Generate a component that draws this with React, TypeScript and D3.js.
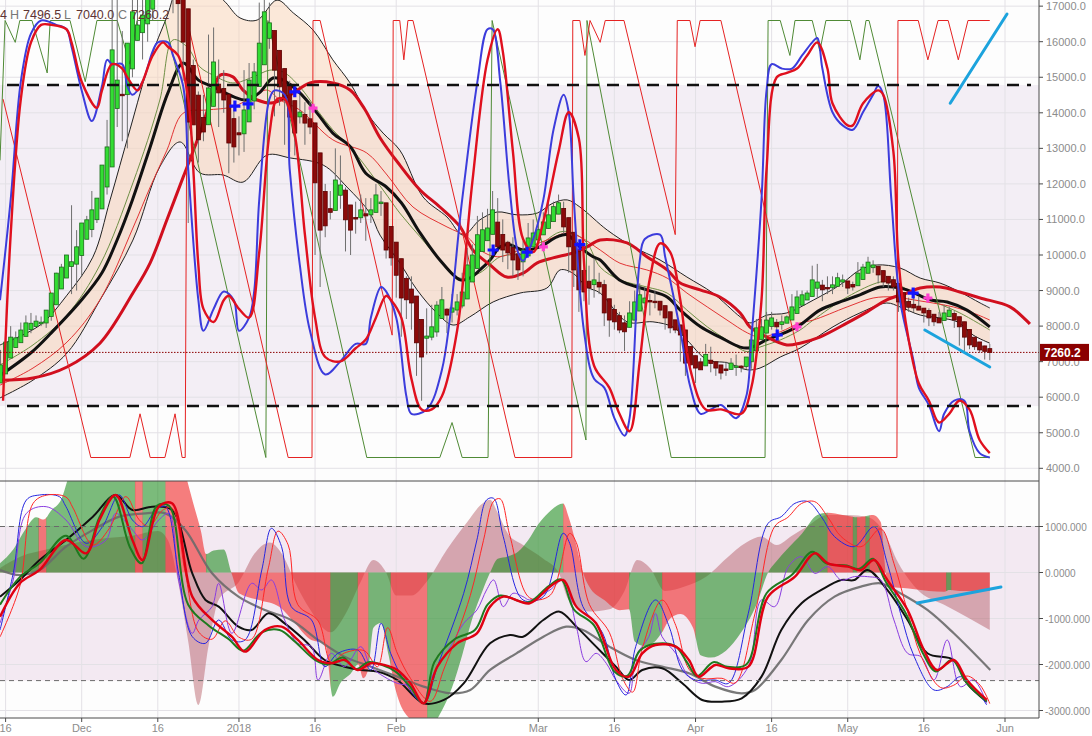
import React, { useEffect, useRef } from 'react';
import * as d3 from 'd3';

type Pt = [number, number];

// day index 0 = 16 Nov 2017, one candle per day
const FIRST_DAY = -1;
const FIRST_OPEN = 6400;

const haClose = [
  6910, 7550, 7690, 7670, 7890, 8090, 8080, 8140, 8110, 8450,
  8930, 9490, 9660, 10000, 9810, 10230, 10900, 10990, 11270, 11600,
  12530, 13040, 15770, 14920, 14500, 15960, 16840, 16470, 16750, 17330,
  17900, 18800, 19300, 19100, 18400, 17070, 15990, 13740, 13660, 13240,
  13460, 14700, 15430, 14560, 14360, 13150, 13040, 13380, 14080, 14920,
  15150, 15960, 16840, 16530, 15200, 14730, 14360, 13880, 13430, 14020,
  13710, 13600, 12030, 10700, 10820, 11200, 12110, 11970, 10990, 10700,
  11040, 11270, 11100, 11270, 11690, 11490, 10140, 9920, 9430, 8790,
  8740, 8650, 7530, 7130, 7720, 7980, 8590, 8740, 8310, 8510,
  8680, 8960, 9720, 10000, 10570, 10710, 10760, 11270, 10230, 10140,
  10060, 9860, 9580, 10140, 10480, 10620, 10710, 10930, 11130, 11360,
  11470, 10790, 10230, 9580, 9020, 8960, 9070, 9300, 9100, 8370,
  8170, 8120, 7890, 7840, 8370, 8680, 8880, 8790, 8680, 8700,
  8450, 8230, 7950, 7890, 7750, 6960, 6910, 6820, 6770, 7200,
  6950, 6820, 6680, 6770, 6960, 6880, 6850, 7130, 7610, 7950,
  7980, 8170, 8230, 7980, 8120, 8260, 8540, 8820, 8880, 8930,
  9300, 9240, 9020, 9070, 9160, 9360, 9300, 9070, 9100, 9490,
  9660, 9800, 9720, 9440, 9240, 9210, 9100, 8680, 8450, 8530,
  8510, 8450, 8370, 8230, 8120, 8090, 8370, 8450, 8170, 7980,
  7690, 7470, 7420, 7330, 7290, 7260.2,
];

const highs = [
  7330, 7970, 8000, 7850, 8100, 8300, 8370, 8300, 8270, 8350,
  8750, 9500, 9750, 9950, 11400, 10700, 10900, 11100, 11800, 11600,
  11900, 13800, 17200, 17300, 16300, 15700, 17400, 17500, 17300, 16900,
  17900, 19500, 19800, 19200, 19000, 17900, 17300, 15800, 15500, 14600,
  14500, 16200, 16400, 15500, 15200, 14400, 14200, 13900, 15200, 15400,
  15400, 17100, 17200, 17100, 16200, 15300, 14900, 14900, 14100, 14500,
  14300, 14300, 13600, 11700, 12000, 11800, 13000, 12800, 11900, 11300,
  11500, 11700, 11600, 11600, 12000, 11800, 11200, 10300, 10200, 9100,
  9400, 9400, 8300, 7900, 8500, 8600, 8700, 9100, 8500, 8900,
  8900, 9500, 10200, 10300, 11100, 11200, 11300, 11800, 11600, 11000,
  10400, 10500, 9900, 10400, 10900, 11000, 11000, 11200, 11500, 11500,
  11700, 11500, 10900, 10100, 9400, 9500, 9700, 9900, 9500, 9300,
  8400, 8600, 8400, 8300, 8700, 9000, 9200, 9100, 8900, 9000,
  8700, 8500, 8200, 8100, 7950, 7300, 7200, 7000, 7100, 7500,
  7420, 6900, 6800, 7000, 7100, 7200, 6900, 6970, 8000, 8200,
  8200, 8400, 8400, 8200, 8300, 8300, 8900, 9000, 9000, 9000,
  9700, 9750, 9300, 9400, 9400, 9500, 9450, 9250, 9250, 9800,
  9750, 9950, 9850, 9650, 9450, 9350, 9400, 9050, 8650, 8800,
  8900, 8850, 8500, 8500, 8300, 8400, 8600, 8550, 8420, 8000,
  7700, 7650, 7600, 7400, 7450, 7496.5,
];

const lows = [
  6660, 7120, 7500, 7450, 7700, 7950, 7800, 8100, 8000, 7950,
  8150, 8700, 9300, 9600, 8900, 9000, 9400, 10700, 10500, 10900,
  11500, 11700, 13400, 13600, 13200, 13000, 15000, 16300, 15500, 16000,
  16600, 17500, 18800, 18000, 16800, 15600, 14900, 10900, 13700, 12600,
  13200, 13700, 14800, 13600, 14000, 12300, 12600, 12800, 12900, 14600,
  14100, 14800, 16100, 15800, 13900, 14200, 13100, 12900, 12800, 13700,
  13100, 13400, 10000, 9100, 10500, 11000, 11600, 11300, 10100, 10000,
  10600, 10900, 10400, 10900, 11400, 11100, 9900, 9700, 8800, 7700,
  8200, 7900, 6600, 5900, 7200, 7600, 7700, 8200, 7800, 8100,
  8300, 8500, 9400, 9700, 10100, 10200, 10400, 11000, 10300, 9800,
  9600, 9400, 9300, 9400, 10200, 10300, 10300, 10800, 11000, 11100,
  11400, 10600, 9500, 9100, 8400, 8700, 8600, 8800, 8900, 8000,
  7700, 7900, 7800, 7300, 8100, 8300, 8700, 8500, 8300, 8500,
  8300, 7900, 7800, 7800, 7000, 6600, 6800, 6400, 6800, 7000,
  6700, 6600, 6500, 6600, 6900, 6600, 6700, 6800, 6800, 7700,
  7800, 8000, 7900, 7800, 7900, 8100, 8200, 8600, 8800, 8800,
  8900, 8800, 8700, 8900, 8900, 9200, 9100, 8900, 9000, 9200,
  9500, 9700, 9500, 9200, 9100, 9000, 9000, 8400, 8200, 8400,
  8400, 8450, 8100, 8000, 8000, 8150, 8200, 8350, 7950, 7450,
  7300, 7350, 7330, 7250, 7060, 7040,
];

const xTicks: [number, string][] = [
  [0, '16'], [15, 'Dec'], [30, '16'], [46, '2018'], [61, '16'], [77, 'Feb'],
  [105, 'Mar'], [120, '16'], [136, 'Apr'], [151, '16'], [166, 'May'], [181, '16'], [197, 'Jun'],
];
const priceTicks = [4000, 5000, 6000, 7000, 8000, 9000, 10000, 11000, 12000, 13000, 14000, 15000, 16000, 17000];
const oscTicks = [1000, 0, -1000, -2000, -3000];
const oscTickLabels = ['1000.000', '0.0000', '-1000.000', '-2000.000', '-3000.000'];
const priceBand = [14780, 5750];
const oscBand = [1000, -2350];
const lastClose = 7260.2;
const legendParts: [string, string, number][] = [
  ['4', 'v', 0], ['H', 'k', 10], ['7496.5', 'v', 23], ['L', 'k', 64],
  ['7040.0', 'v', 76], ['C', 'k', 118], ['7260.2', 'v', 131],
];

// moving averages and envelope, [day, price]
const maBlack: Pt[] = [[-1, 6620], [5, 7250], [9, 7810], [15, 8740], [19, 9500], [22, 10430], [25, 11550], [28.5, 13040], [32, 14560], [35, 15400], [38, 14920], [41, 14730], [45, 14450], [47.5, 14360], [50, 14560], [52.7, 14980], [54.7, 14920], [58, 14560], [61.4, 13990], [64.5, 13430], [68, 13040], [71, 12300], [75, 11920], [78, 11470], [81.7, 10620], [85.6, 9860], [89.6, 9300], [91.5, 9350], [93.5, 9580], [95.5, 9860], [97.5, 10230], [99.4, 10290], [102, 10140], [105.3, 10230], [108.7, 10510], [110.7, 10570], [113.2, 10230], [115.8, 9950], [117.2, 9860], [121, 9300], [126.4, 9020], [130.4, 8820], [133, 8450], [137, 7980], [140.8, 7690], [144.8, 7410], [146.7, 7390], [150, 7610], [154, 7840], [156.6, 8030], [160.5, 8450], [164.5, 8680], [168.4, 8880], [172.4, 9100], [175, 9100], [177.7, 9020], [182.2, 8740], [185.6, 8680], [189.5, 8450], [194, 7980]];
const envUpper: Pt[] = [[-1.1, 7470], [6.8, 8030], [12.1, 8870], [17.2, 9940], [20.6, 11550], [24.5, 13520], [28.5, 15490], [31.8, 16700], [34.4, 17600], [38.3, 17600], [42.9, 17170], [46.2, 16670], [49.6, 16610], [53.5, 17170], [56.7, 16810], [60.6, 16330], [64.5, 15490], [67.9, 14840], [71.2, 14000], [74.4, 13430], [77.7, 12950], [82.3, 11630], [87, 11070], [90.2, 10560], [93.5, 10990], [96.9, 11210], [100.8, 11130], [104.8, 11180], [107.9, 11460], [110.7, 11550], [113.2, 11350], [118.6, 10700], [123.7, 10230], [129, 9860], [134.3, 9380], [139.4, 8930], [144.8, 8260], [146.7, 8090], [150.1, 8310], [154, 8370], [159.2, 8730], [164.5, 9160], [168.4, 9580], [171.8, 9720], [176.3, 9635], [180.3, 9350], [184.2, 9210], [188.1, 8960], [192.1, 8650], [194, 8510]];
const envLower: Pt[] = [[-1.1, 5980], [5.4, 6480], [12.1, 7240], [18.6, 8730], [25.1, 10420], [30.4, 12480], [34.4, 13180], [38.3, 12310], [42.9, 12250], [46.8, 12050], [51.5, 12810], [56.1, 12730], [62.6, 12530], [67.3, 11910], [71.8, 11180], [73.8, 10560], [77.7, 9780], [81.1, 9020], [85, 8370], [88.2, 8030], [91.5, 8260], [96.1, 8680], [101.4, 8930], [106.7, 9070], [109.3, 9580], [111.8, 9490], [114.6, 9100], [117.2, 8930], [122.5, 8120], [127.6, 8120], [131.6, 7970], [134.3, 7610], [138.3, 7050], [142.2, 6970], [146.2, 6770], [148.7, 6820], [152.7, 7130], [156.6, 7380], [163.1, 7980], [168.4, 8370], [173.7, 8650], [176.3, 8540], [180.3, 8310], [184.2, 8230], [187.6, 8120], [190.7, 7750], [194, 7520]];
const maRedThick: Pt[] = [[-1.1, 6480], [5.4, 6540], [12.1, 6850], [18.6, 7520], [25.1, 8930], [28.5, 9780], [31.8, 10990], [35, 12190], [38.3, 13430], [40.9, 14560], [42.3, 15060], [44.8, 15010], [46.8, 14640], [49.6, 14360], [52.7, 14280], [56.1, 14500], [60, 14840], [64.5, 14840], [67.9, 14640], [70.8, 14100], [73.8, 13300], [77.7, 12530], [81.7, 11830], [85.6, 11350], [89.6, 10790], [92.1, 10140], [95.5, 9720], [98.8, 9380], [102, 9490], [104.8, 9780], [107.9, 9920], [111.9, 10060], [114.6, 10230], [117.2, 10420], [122.5, 10340], [126.4, 9950], [130.4, 9580], [132.9, 9220], [136.9, 9020], [140.8, 8820], [144.8, 8370], [146.7, 7980], [150.1, 7690], [154, 7470], [156.6, 7520], [160.5, 7690], [165.9, 8090], [169.8, 8400], [173.7, 8740], [177.7, 8930], [180.3, 9070], [184.2, 9100], [188.1, 8960], [192.1, 8790], [198, 8540], [201.9, 8060]];
const maRedThin: Pt[] = [[-1.1, 6340], [5.4, 6820], [12.1, 7550], [18.6, 8740], [25.1, 10760], [28.5, 11910], [31.8, 12950], [35, 13990], [39.7, 14080], [44.8, 14170], [48.8, 14450], [51.5, 14640], [54.1, 14360], [58, 14080], [64.5, 13240], [71.2, 12870], [75.2, 12250], [80.3, 11350], [87, 10790], [91, 10510], [93.5, 10140], [96.9, 9950], [101.4, 10140], [106.7, 10420], [110.7, 10620], [113.2, 10510], [117.2, 10140], [121.1, 9770], [126.4, 9580], [130.4, 9350], [134.3, 8930], [138.3, 8540], [142.2, 8170], [146.2, 7810], [148.7, 7690], [152.7, 7840], [156.6, 8090], [159.2, 8170], [165.9, 8540], [171, 8790], [174.9, 8820], [178.9, 8740], [182.8, 8650], [186.8, 8540], [190.7, 8370], [194, 8170]];
const maOlive: Pt[] = [[-1.1, 6910], [5.4, 7470], [12.1, 8310], [18.6, 9720], [25.1, 12030], [30.4, 14360], [33, 16050], [35.8, 15850], [38.3, 15290], [40.9, 15060], [44.8, 14840], [48.8, 15010], [52.1, 15200], [54.7, 15150], [58, 14730], [61.4, 14080], [64.5, 13520], [67.9, 13040], [74.4, 11830], [77.7, 11180], [81.7, 10510], [85.6, 9860], [89.5, 9350], [93.5, 9500], [97.5, 9950], [102.8, 10060], [109.3, 10650], [111.8, 10620], [114.6, 10340], [117.2, 9660], [121.1, 9300], [126.4, 9100], [130.4, 8930], [134.3, 8450], [138.3, 7980], [142.2, 7610], [146.2, 7280], [148.7, 7410], [152.7, 7610], [156.6, 7890], [159.2, 8170], [165.9, 8820], [172.4, 9240], [174.9, 9240], [178.9, 8930], [183.6, 8650], [188.1, 8370], [194, 7890]];

// overlay oscillators on the price pane, 0..100
const stochBlue: Pt[] = [[-1.1, 36], [1, 59], [3, 86], [5, 97], [7, 100], [10, 99], [12, 98], [13, 94], [15, 84], [17, 77], [19, 85], [20, 91], [21, 90], [23, 90], [24, 85], [25, 83], [27, 86], [29, 93], [30, 95], [32, 95], [33, 92], [35, 85], [36, 66], [38, 36], [39, 29], [41, 34], [43, 38], [45, 36], [46, 29], [48, 32], [49, 38], [50, 59], [52, 82], [53, 84], [55, 83], [56, 66], [58, 44], [60, 29], [63, 19], [66, 22], [69, 26], [71, 26], [72, 32], [74, 39], [75, 38], [77, 32], [79, 14], [80, 10], [83, 11], [86, 20], [90, 59], [93, 86], [95, 98], [96, 98], [97.5, 86], [99.4, 61], [101, 47], [102, 45], [104, 50], [106, 59], [108, 75], [110, 83], [111, 79], [112, 59], [114, 29], [116, 18], [118, 16], [120, 9], [122, 5], [123, 9], [125, 45], [126, 50], [129, 51], [130, 46], [133, 29], [135, 16], [137, 10], [139, 11], [141, 12], [144, 9], [146, 14], [147, 27], [149, 59], [150, 84], [151, 90], [153, 89], [155, 89], [157, 92], [159, 95], [160, 96], [161, 89], [163, 79], [165, 76], [167, 75], [169, 79], [171, 83], [172, 85], [173, 83], [174.6, 59], [176.3, 36], [179, 22], [180, 16], [182, 12], [184, 6], [185, 10], [187, 13], [189, 13], [190, 6], [192, 1], [194, 0]];
const stochRed: Pt[] = [[-0.5, 13], [1, 51], [3, 82], [5, 95], [7, 99], [9, 99], [12, 98], [13, 95], [15, 86], [18, 80], [19, 84], [21, 90], [23, 89], [24, 87], [26, 84], [27, 86], [29, 92], [31, 95], [32, 94], [34, 92], [36, 82], [37, 66], [38, 44], [39, 34], [41, 31], [43, 36], [44, 37], [46, 34], [48, 32], [50, 47], [52, 74], [53.5, 82], [55, 82], [57, 74], [59, 51], [61, 32], [63, 23], [66, 22], [69, 25], [71, 27], [73, 32], [75, 37], [76, 36], [78, 32], [80, 18], [82, 11], [84, 11], [86, 14], [89, 29], [92, 63], [95, 91], [97, 98], [98, 93], [100, 70], [102, 50], [104, 47], [106, 54], [109, 70], [111, 79], [113, 73], [114, 45], [116, 21], [119, 16], [121, 10], [123, 6], [125, 22], [127, 41], [129, 49], [131, 47], [133, 36], [135, 20], [138, 11], [141, 11], [145, 10], [147, 16], [149, 36], [150, 66], [152, 87], [154, 88], [156, 89], [158, 92], [160, 95], [162, 89], [163, 81], [166, 76], [167, 76], [169, 81], [172, 84], [173, 83], [175, 70], [176, 45], [178, 27], [180, 17], [182, 13], [184, 8], [186, 10], [188, 13], [190, 11], [192, 4], [194, 1]];
const aroonUp: Pt[] = [[-1.1, 68], [-0.1, 100], [1.9, 95], [2.8, 100], [5.2, 100], [8.2, 88], [8.8, 100], [12.7, 100], [15.7, 86], [18, 100], [22, 100], [24.5, 90], [25.9, 100], [31.4, 100], [51.3, 0], [51.7, 100], [71.2, 0], [85.6, 0], [88, 8], [90, 0], [95.1, 0], [95.9, 100], [114.4, 4], [114.6, 100], [131.2, 0], [149.7, 0], [150.3, 100], [152.7, 100], [154.6, 92], [155.6, 100], [159, 100], [160.5, 93], [161.7, 100], [166.5, 100], [168.4, 91], [169.6, 100], [170.2, 100], [191.1, 0], [194, 0]];
const aroonDown: Pt[] = [[-0.5, 82], [16.8, 0], [24.5, 0], [26.5, 10], [28.5, 0], [31.4, 0], [33.4, 10], [34.8, 0], [35.4, 0], [35.8, 100], [55.7, 0], [60.4, 0], [60.6, 100], [62, 100], [76.2, 28], [76.4, 100], [77.7, 100], [78.5, 91], [79.3, 100], [80.3, 100], [100.4, 0], [111.6, 0], [111.8, 100], [113.2, 100], [114.2, 92], [115.2, 100], [117.2, 95], [118.2, 100], [121.9, 100], [132, 51], [132.4, 100], [134.9, 100], [135.9, 94], [136.9, 100], [141, 100], [161, 0], [175.7, 0], [175.9, 100], [179.9, 100], [181.8, 91], [183.8, 100], [185.8, 100], [187.8, 91], [189.7, 100], [194, 100]];

const buyMarks: Pt[] = [[45.2, 14190], [47.8, 14250], [57, 14590], [96.1, 10140], [102.8, 10080], [113.2, 10290], [152.1, 7750], [178.9, 8930]];
const sellMarks: Pt[] = [[60.6, 14130], [106, 10230], [156, 7980], [181.8, 8790]];
const trendUp: Pt[] = [[186.2, 14270], [197.4, 16780]];
const trendDown: Pt[] = [[181.2, 7890], [194, 6850]];

// lower pane
const histVals: Pt[] = [[-1.1, 200], [1.5, 500], [4, 950], [6, 1200], [7.5, 1150], [9, 1350], [11, 1600], [12.5, 2100], [15, 2600], [20, 2900], [25, 3000], [26.5, 2900], [28, 3000], [31.5, 3200], [33, 2900], [35, 2300], [37, 1500], [38.5, 900], [39.5, 400], [41, 480], [43, 500], [44.5, 0], [46, -450], [50, -600], [54, -750], [57, -1100], [60, -1450], [63, -1550], [64.5, -2700], [66, -2400], [68, -2200], [69.5, -2000], [70.5, -2300], [71.5, -2100], [72.5, -1200], [74, -1100], [75.5, -1800], [77, -2600], [79, -3100], [82, -3300], [84, -3300], [86, -3000], [88, -2500], [90, -1800], [92, -1000], [94, -400], [95.5, 0], [97, 300], [99, 350], [101, 450], [103, 700], [105, 1050], [107, 1300], [109.9, 1500], [111, 1200], [112.5, 600], [113.8, 0], [115, -300], [118, -600], [121, -820], [122.9, -800], [124, -1500], [126, -1600], [128, -1500], [129.4, -1300], [131, -1000], [133, -900], [135.5, -1200], [137, -1800], [139, -1850], [142, -1700], [145, -1300], [148, -700], [150.3, 0], [152, 250], [154, 500], [157, 850], [160, 1250], [162, 1300], [165, 1250], [168, 1200], [171, 1250], [172.5, 1100], [173.5, 0], [174, -300], [178, -350], [182, -400], [185, -420], [186, -380], [188, -400], [194, -400]];
const histColors: [number, number, string][] = [[-1.1, 6.5, 'g'], [6.5, 8, 'r'], [8, 25.5, 'g'], [25.5, 27, 'r'], [27, 31.5, 'g'], [31.5, 39.5, 'r'], [39.5, 44.5, 'g'], [44.5, 64, 'r'], [64, 69.4, 'g'], [69.4, 71.5, 'r'], [71.5, 75.9, 'g'], [75.9, 83.1, 'r'], [83.1, 109.9, 'g'], [109.9, 122.9, 'r'], [122.9, 129.4, 'g'], [129.4, 136, 'r'], [136, 162, 'g'], [162, 167, 'r'], [167, 167.8, 'g'], [167.8, 169.5, 'r'], [169.5, 170.3, 'g'], [170.3, 185.4, 'r'], [185.4, 186.4, 'g'], [186.4, 194.2, 'r']];
const signalVals: Pt[] = [[-1.1, 100], [3, 350], [8, 500], [14, 650], [20, 750], [25, 800], [30, 900], [32, 700], [34, -200], [36, -1500], [38, -2880], [40, -1600], [42, -600], [46, -200], [49, 400], [52, 650], [55, 300], [57, -200], [60, -800], [64, -1300], [67, -900], [70, -200], [72.5, 270], [75, 0], [77, -500], [80, -500], [83, -200], [87, 500], [91, 1100], [94, 1500], [95.5, 1580], [97, 1300], [99, 850], [102, 600], [106, 300], [109, 0], [111, -600], [115, -850], [119, -800], [122, -400], [124.5, 270], [127, 100], [130, -400], [134, -300], [138, -100], [142, 300], [146, 650], [149, 780], [152, 600], [155, 800], [158, 1000], [162, 1250], [166, 1250], [170, 1200], [173, 900], [176, 200], [180, -400], [185, -700], [190, -1000], [194, -1250]];
const fastBlue: Pt[] = [[-1.1, -1250], [1.5, -18], [4.1, 1576], [6.7, 1685], [10.6, 1649], [11.9, 1431], [15.9, 634], [19.1, 997], [22.4, 1685], [25, 1141], [27, 997], [29.6, 1359], [31.5, 1431], [34.1, -18], [36.8, -1395], [39.4, -1540], [42, -1032], [44.6, -1467], [47.2, -1467], [50.5, 55], [52.4, 960], [54.4, 562], [56.3, -742], [60.3, -1032], [62.9, -2047], [65.5, -1757], [69.4, -1684], [72, -2119], [74, -1105], [75.9, -1757], [78.5, -2337], [82.4, -2844], [85.1, -2047], [90.3, -453], [92.9, 707], [94.8, 1576], [96.2, 1612], [98.1, 779], [102, -597], [106, -525], [109.9, 852], [111.2, 634], [113.8, -742], [117.7, -1322], [120.3, -2337], [122.3, -2663], [124.2, -1612], [128.1, -597], [130.8, -1177], [133.4, -2119], [136, -2337], [139.9, -2337], [142.5, -2409], [146.4, -887], [150.3, 1069], [152.9, 1214], [155.6, 1504], [158.2, 1540], [160.8, 1214], [163.4, 779], [167.3, 562], [171.2, 997], [173.8, 199], [176.4, -887], [179.1, -1829], [183, -2554], [185.6, -2481], [188.2, -2264], [190.8, -2481], [193.4, -2880]];
const fastRed: Pt[] = [[-1.1, -1400], [2.8, -300], [5.4, 1500], [8, 1680], [11.9, 1640], [13.3, 1400], [17.2, 600], [20.4, 950], [23.7, 1650], [26.3, 1150], [28.3, 1000], [30.9, 1350], [32.8, 1400], [35.4, 0], [38.1, -1300], [40.7, -1450], [43.3, -1050], [45.9, -1400], [48.5, -1450], [51.8, 100], [53.7, 900], [55.7, 600], [57.6, -700], [61.6, -1050], [64.2, -1950], [66.8, -1750], [70.7, -1700], [73.3, -2050], [75.3, -1200], [77.2, -1750], [79.8, -2300], [83.7, -2800], [86.4, -2100], [91.6, -500], [94.2, 700], [96.2, 1550], [97.5, 1600], [99.4, 800], [103.3, -550], [107.3, -500], [111.2, 850], [112.5, 650], [115.1, -700], [119, -1300], [121.6, -2300], [123.6, -2600], [125.5, -1650], [129.4, -600], [132.1, -1150], [134.7, -2100], [137.3, -2300], [141.2, -2300], [143.8, -2400], [147.7, -900], [151.6, 1000], [154.2, 1200], [156.9, 1500], [159.5, 1540], [162.1, 1200], [164.7, 780], [168.6, 560], [172.5, 950], [175.1, 200], [177.8, -850], [180.4, -1800], [184.3, -2500], [186.9, -2450], [189.5, -2250], [192.1, -2450], [194, -2850]];
const rawPurple: Pt[] = [[-1.1, -1100], [1.5, -163], [4.1, 1286], [8, 1431], [11.9, 1141], [15.9, 562], [19.8, 707], [21.7, 1286], [25, 924], [27, 707], [30.2, 1141], [32.2, 1286], [34.1, -163], [36.8, -1322], [38.1, -1032], [40.7, -742], [42, -235], [44.6, -1322], [48.5, -235], [50.5, -380], [52.4, -163], [55, -1032], [57.6, -1540], [60.3, -1612], [61.6, -2337], [64.2, -1757], [66.8, -2047], [70, -1612], [72, -2047], [74.6, -2264], [77.2, -2409], [79.8, -2481], [82.4, -2844], [83.7, -2337], [87.7, -1612], [90.3, -1105], [92.9, -815], [94.8, -380], [96.2, -163], [98.1, -742], [100, -453], [102, -525], [103.3, -597], [107.3, -380], [109.9, -163], [112.5, -1177], [114.4, -1938], [116.4, -1757], [118.4, -1974], [120.3, -2337], [122.9, -2626], [124.2, -1829], [126.8, -1395], [128.1, -887], [129.4, -1395], [132.1, -1757], [134.7, -2264], [137.3, -2409], [139.9, -2373], [142.5, -2481], [146.4, -2047], [149, -597], [151.6, -742], [154.3, 127], [156.9, 344], [159.5, -18], [162.1, 127], [164.7, -163], [167.3, -90], [169.9, -90], [172.5, -163], [175.1, -1032], [177.8, -1757], [180.4, -1829], [183, -2337], [185.6, -1467], [188.2, -2481], [190.8, -2337], [193.4, -2844]];
const smoothRed: Pt[] = [[-1.1, -960], [2.8, -235], [6.7, 55], [11.9, 707], [15.9, 417], [18.5, 1141], [21.7, 1685], [25, 707], [27, 272], [30.2, 1431], [32.8, 1504], [36.8, -525], [40.7, -1032], [44.6, -1395], [47.2, -1721], [51.1, -1250], [54.4, -1177], [57.6, -1467], [61.6, -1902], [64.2, -1974], [66.8, -1902], [69.4, -2119], [72, -1974], [74.6, -2010], [77.2, -2119], [79.8, -2409], [82.4, -2844], [85.1, -2047], [89, -1540], [92.9, -1322], [95.5, -742], [98.1, -525], [103.3, -670], [107.3, -308], [109.9, -163], [112.5, -742], [116.4, -1105], [120.3, -2119], [122.9, -2264], [125.5, -1757], [128.1, -1576], [132.1, -1612], [134.7, -1902], [136.6, -2264], [139.9, -2010], [142.5, -2083], [146.4, -2047], [150.3, -525], [155.6, -90], [159.5, 417], [162.1, 199], [166, 127], [168.6, 55], [171.2, 272], [173.8, -163], [177.8, -815], [181, -1684], [183.6, -2119], [186.9, -1902], [189.5, -2337], [193.4, -2771]];
const smoothGreen: Pt[] = [[-1.1, -700], [2.8, -100], [6.7, 200], [11.9, 800], [15.4, 300], [18.5, 1200], [21.2, 1650], [24.5, 550], [26.8, 200], [29.8, 1450], [32.2, 1450], [36, -700], [40, -1150], [44, -1450], [46.8, -1700], [50.5, -1300], [54, -1250], [57, -1500], [61, -1900], [63.5, -2000], [66.5, -1850], [69, -2100], [71.5, -1950], [74, -2000], [76.8, -2150], [79.5, -2450], [82.4, -2844], [84.5, -1950], [88.5, -1450], [92.5, -1250], [95, -700], [97.5, -500], [103, -650], [107, -300], [109.5, -150], [112, -800], [116, -1150], [120, -2150], [122.5, -2250], [125, -1700], [128, -1550], [132, -1600], [134.3, -1950], [136.3, -2250], [139.5, -1950], [142.3, -2050], [146, -2000], [150, -450], [155, -50], [159, 450], [161.8, 200], [165.8, 150], [168.3, 80], [171, 300], [173.5, -200], [177.5, -900], [180.8, -1750], [183.4, -2150], [186.6, -1900], [189.3, -2380], [193.4, -2800]];
const slowBlack: Pt[] = [[-1.1, -525], [2.8, -163], [6.7, 272], [11.9, 707], [17.2, 1214], [21.7, 1685], [25, 1359], [28.9, 1431], [32.8, 1359], [36.8, -18], [39.4, -597], [42, -742], [45.9, -1177], [48.5, -1250], [51.8, -887], [55, -1105], [58.9, -1467], [62.9, -1902], [66.8, -2047], [70, -2119], [73.3, -2155], [77.2, -2337], [82.4, -2844], [86.4, -2771], [90.3, -2409], [95.5, -1540], [99.4, -1358], [102, -1395], [106, -1032], [109.2, -851], [112.5, -1177], [116.4, -1612], [120.3, -2047], [122.9, -2337], [125.5, -2119], [129.4, -2083], [133.4, -2409], [137.3, -2771], [141.2, -2808], [145.1, -2735], [149, -2264], [152.9, -1250], [156.9, -670], [160.8, -380], [164.7, -163], [167.3, -163], [169.9, 55], [173.8, -380], [177.8, -1032], [181.7, -1757], [186.9, -1902], [189.5, -2409], [193.4, -2808]];
const slowGrey: Pt[] = [[-1.1, 55], [2.8, -54], [6.7, 55], [11.9, 562], [17.2, 924], [22.4, 1214], [27.6, 1286], [31.5, 1286], [35.4, 924], [40.7, -18], [45.9, -525], [51.1, -815], [56.3, -1032], [61.6, -1467], [66.8, -1829], [72, -2047], [77.2, -2264], [82.4, -2481], [87.7, -2626], [91.6, -2554], [95.5, -2119], [100.7, -1757], [106, -1395], [110.5, -1177], [113.8, -1250], [119, -1612], [124.2, -1902], [129.4, -2047], [134.7, -2192], [139.9, -2481], [145.1, -2626], [147.7, -2554], [152.9, -1902], [158.2, -1032], [163.4, -525], [168.6, -308], [172.5, -235], [176.4, -453], [181.7, -815], [186.9, -1322], [194.1, -2119]];
const trendOsc: Pt[] = [[179.7, -663], [196.2, -315]];

const App: React.FC = () => {
  const ref = useRef<SVGSVGElement | null>(null);

  useEffect(() => {
    if (!ref.current) return;
    const svg = d3.select(ref.current);
    svg.selectAll('*').remove();

    const W = 1092, H = 736, axisX = 1039;
    const paneSplit = 481, paneBottom = 718;
    const font = '"Liberation Sans", Arial, sans-serif';

    const x = d3.scaleLinear().domain([0, 197]).range([5.6, 1005]);
    const yP = d3.scaleLinear().domain([4000, 17000]).range([468.3, 6.15]);
    const yO = d3.scaleLinear().domain([0, 100]).range([457.5, 20.5]);
    const yB = d3.scaleLinear().domain([-3000, 1000]).range([710.5, 526.5]);

    const defs = svg.append('defs');
    defs.append('clipPath').attr('id', 'clipTop').append('rect')
      .attr('x', 0).attr('y', 0).attr('width', axisX).attr('height', paneSplit);
    defs.append('clipPath').attr('id', 'clipBot').append('rect')
      .attr('x', 0).attr('y', paneSplit).attr('width', axisX).attr('height', paneBottom - paneSplit);

    svg.append('rect').attr('width', W).attr('height', H).attr('fill', '#ffffff');

    const mk = (ys: d3.ScaleLinear<number, number>, curve: d3.CurveFactory = d3.curveCatmullRom) =>
      d3.line<Pt>().x(d => x(d[0])).y(d => ys(d[1])).curve(curve);

    // ---------- price pane ----------
    const gT = svg.append('g').attr('clip-path', 'url(#clipTop)');
    gT.append('rect').attr('x', 0).attr('y', 0).attr('width', axisX).attr('height', paneSplit).attr('fill', '#fdfdfd');
    gT.append('rect').attr('x', 0).attr('y', yP(priceBand[0])).attr('width', axisX)
      .attr('height', yP(priceBand[1]) - yP(priceBand[0])).attr('fill', '#f3eef5');

    priceTicks.forEach(v => {
      gT.append('line').attr('x1', 0).attr('x2', axisX).attr('y1', yP(v)).attr('y2', yP(v))
        .attr('stroke', '#e3e1e6').attr('stroke-width', 1);
    });
    xTicks.forEach(([d]) => {
      gT.append('line').attr('x1', x(d)).attr('x2', x(d)).attr('y1', 0).attr('y2', paneSplit)
        .attr('stroke', '#e3e1e6').attr('stroke-width', 1);
    });

    const lineP = mk(yP);
    const upperPath = lineP(envUpper) as string;
    const lowerPath = lineP([...envLower].reverse()) as string;
    gT.append('path').attr('d', upperPath + 'L' + lowerPath.slice(1) + 'Z')
      .attr('fill', 'rgba(250,212,182,0.5)');
    gT.append('path').attr('d', upperPath).attr('fill', 'none').attr('stroke', '#222').attr('stroke-width', 1);
    gT.append('path').attr('d', lineP(envLower)).attr('fill', 'none').attr('stroke', '#222').attr('stroke-width', 1);

    const drawP = (pts: Pt[], color: string, w: number) =>
      gT.append('path').attr('d', lineP(pts)).attr('fill', 'none').attr('stroke', color).attr('stroke-width', w);
    drawP(maOlive, '#6f8f45', 1);
    drawP(maRedThin, '#e23434', 1);
    drawP(maBlack, '#111111', 3);
    drawP(maRedThick, '#d10f1e', 3);

    const lineO = mk(yO);
    const lineOLin = mk(yO, d3.curveLinear);
    gT.append('path').attr('d', lineOLin(aroonUp)).attr('fill', 'none').attr('stroke', '#4f8a35').attr('stroke-width', 1);
    gT.append('path').attr('d', lineOLin(aroonDown)).attr('fill', 'none').attr('stroke', '#e52222').attr('stroke-width', 1);

    // heikin-ashi candles
    const opens: number[] = [];
    haClose.forEach((_, k) => { opens.push(k === 0 ? FIRST_OPEN : (opens[k - 1] + haClose[k - 1]) / 2); });
    const bars = haClose.map((c, k) => ({
      day: FIRST_DAY + k, o: opens[k], c,
      h: Math.max(highs[k], opens[k], c), l: Math.min(lows[k], opens[k], c),
    }));
    const gC = gT.append('g');
    gC.selectAll('line.wick').data(bars).join('line').attr('class', 'wick')
      .attr('x1', d => x(d.day)).attr('x2', d => x(d.day))
      .attr('y1', d => yP(d.h)).attr('y2', d => yP(d.l))
      .attr('stroke', '#6f6f6f').attr('stroke-width', 1);
    gC.selectAll('rect.body').data(bars).join('rect').attr('class', 'body')
      .attr('x', d => x(d.day) - 2).attr('width', 4)
      .attr('y', d => yP(Math.max(d.o, d.c)))
      .attr('height', d => Math.max(1.5, Math.abs(yP(d.o) - yP(d.c))))
      .attr('fill', d => d.c >= d.o ? '#33dd33' : '#8b0a0a')
      .attr('stroke', d => d.c >= d.o ? '#1b6b1b' : '#5c0000')
      .attr('stroke-width', 0.8);

    gT.append('path').attr('d', lineO(stochBlue)).attr('fill', 'none').attr('stroke', '#3c3cdc').attr('stroke-width', 2);
    gT.append('path').attr('d', lineO(stochRed)).attr('fill', 'none').attr('stroke', '#e0101e').attr('stroke-width', 2.4);

    const plus = (pts: Pt[], color: string, s: number) => {
      pts.forEach(([d, v]) => {
        gT.append('path').attr('d', `M${x(d) - s},${yP(v)}H${x(d) + s}M${x(d)},${yP(v) - s}V${yP(v) + s}`)
          .attr('stroke', color).attr('stroke-width', 3.2);
      });
    };
    plus(buyMarks, '#1414ff', 5.5);
    plus(sellMarks, '#ff3fd0', 4.5);

    priceBand.forEach(v => {
      gT.append('line').attr('x1', 7).attr('x2', 1031).attr('y1', yP(v)).attr('y2', yP(v))
        .attr('stroke', '#111').attr('stroke-width', 2.5).attr('stroke-dasharray', '12,8');
    });

    gT.append('line').attr('x1', 0).attr('x2', axisX).attr('y1', yP(lastClose)).attr('y2', yP(lastClose))
      .attr('stroke', '#8b0000').attr('stroke-width', 1).attr('stroke-dasharray', '1.5,1.5');

    [trendUp, trendDown].forEach(t => {
      gT.append('path').attr('d', mk(yP, d3.curveLinear)(t)).attr('stroke', '#1ca3dd')
        .attr('stroke-width', 3).attr('stroke-linecap', 'round').attr('fill', 'none');
    });

    // ---------- oscillator pane ----------
    const gB = svg.append('g').attr('clip-path', 'url(#clipBot)');
    gB.append('rect').attr('x', 0).attr('y', paneSplit).attr('width', axisX).attr('height', paneBottom - paneSplit).attr('fill', '#fdfdfd');
    gB.append('rect').attr('x', 0).attr('y', yB(oscBand[0])).attr('width', axisX)
      .attr('height', yB(oscBand[1]) - yB(oscBand[0])).attr('fill', '#f3e9f2');
    oscTicks.forEach(v => {
      gB.append('line').attr('x1', 0).attr('x2', axisX).attr('y1', yB(v)).attr('y2', yB(v))
        .attr('stroke', '#e3e1e6').attr('stroke-width', 1);
    });
    xTicks.forEach(([d]) => {
      gB.append('line').attr('x1', x(d)).attr('x2', x(d)).attr('y1', paneSplit).attr('y2', paneBottom)
        .attr('stroke', '#e3e1e6').attr('stroke-width', 1);
    });

    const areaB = d3.area<Pt>().x(d => x(d[0])).y0(yB(0)).y1(d => yB(d[1])).curve(d3.curveMonotoneX);
    gB.append('path').attr('d', areaB(signalVals)).attr('fill', 'rgba(165,55,65,0.38)');

    histColors.forEach(([s, e, c], k) => {
      const id = `hc${k}`;
      defs.append('clipPath').attr('id', id).append('rect')
        .attr('x', x(s)).attr('y', paneSplit).attr('width', x(e) - x(s) + 0.3).attr('height', paneBottom - paneSplit);
      gB.append('g').attr('clip-path', `url(#${id})`).append('path').attr('d', areaB(histVals))
        .attr('fill', c === 'g' ? 'rgba(30,140,30,0.58)' : 'rgba(240,40,40,0.6)');
    });

    const lineB = mk(yB);
    const drawB = (pts: Pt[], color: string, w: number, op = 1) =>
      gB.append('path').attr('d', lineB(pts)).attr('fill', 'none').attr('stroke', color)
        .attr('stroke-width', w).attr('opacity', op);
    drawB(slowGrey, '#6a6a6a', 2.2, 0.9);
    drawB(slowBlack, '#111', 2);
    drawB(rawPurple, '#8a3de0', 1);
    drawB(fastBlue, '#2626e0', 1);
    drawB(fastRed, '#ff2626', 1);
    drawB(smoothGreen, '#1e7a1e', 2);
    drawB(smoothRed, '#e00012', 2.4);

    oscBand.forEach(v => {
      gB.append('line').attr('x1', 0).attr('x2', axisX).attr('y1', yB(v)).attr('y2', yB(v))
        .attr('stroke', '#6a6a6a').attr('stroke-width', 1).attr('stroke-dasharray', '5,4');
    });
    gB.append('path').attr('d', mk(yB, d3.curveLinear)(trendOsc)).attr('stroke', '#1ca3dd')
      .attr('stroke-width', 3).attr('stroke-linecap', 'round').attr('fill', 'none');

    // ---------- frame and axes ----------
    svg.append('line').attr('x1', 0).attr('x2', axisX).attr('y1', paneSplit).attr('y2', paneSplit)
      .attr('stroke', '#4a4a4a').attr('stroke-width', 1);
    svg.append('line').attr('x1', 0).attr('x2', axisX).attr('y1', paneBottom).attr('y2', paneBottom)
      .attr('stroke', '#4a4a4a').attr('stroke-width', 1);
    svg.append('line').attr('x1', axisX).attr('x2', axisX).attr('y1', 0).attr('y2', paneBottom)
      .attr('stroke', '#4a4a4a').attr('stroke-width', 1);

    priceTicks.forEach(v => {
      svg.append('line').attr('x1', axisX).attr('x2', axisX + 4).attr('y1', yP(v)).attr('y2', yP(v)).attr('stroke', '#4a4a4a');
      svg.append('text').attr('x', axisX + 7).attr('y', yP(v) + 4).attr('font-family', font)
        .attr('font-size', 11).attr('fill', '#8c8c8c').text(v.toFixed(1));
    });
    oscTicks.forEach((v, k) => {
      svg.append('line').attr('x1', axisX).attr('x2', axisX + 4).attr('y1', yB(v)).attr('y2', yB(v)).attr('stroke', '#4a4a4a');
      svg.append('text').attr('x', axisX + 6).attr('y', yB(v) + 4).attr('font-family', font)
        .attr('font-size', 10).attr('fill', '#8c8c8c').text(oscTickLabels[k]);
    });
    xTicks.forEach(([d, label]) => {
      svg.append('line').attr('x1', x(d)).attr('x2', x(d)).attr('y1', paneBottom).attr('y2', paneBottom + 4).attr('stroke', '#4a4a4a');
      svg.append('text').attr('x', x(d)).attr('y', 732).attr('text-anchor', 'middle').attr('font-family', font)
        .attr('font-size', 11).attr('fill', '#8c8c8c').text(label);
    });

    // last price tag
    svg.append('rect').attr('x', axisX + 1).attr('y', yP(lastClose) - 8.5).attr('width', 49).attr('height', 17).attr('fill', '#8b0000');
    svg.append('text').attr('x', axisX + 5).attr('y', yP(lastClose) + 4.5).attr('font-family', font)
      .attr('font-size', 12).attr('font-weight', 'bold').attr('fill', '#ffffff').text(lastClose.toFixed(1));

    // legend values
    legendParts.forEach(([t, kind, px]) => {
      svg.append('text').attr('x', px).attr('y', 18.5).attr('font-family', font).attr('font-size', 12.5)
        .attr('fill', kind === 'v' ? '#5e3434' : '#777').text(t);
    });
  }, []);

  return (
    <svg ref={ref} width={1092} height={736}
      style={{ position: 'absolute', left: 0, top: 0, display: 'block' }} />
  );
};

export default App;
